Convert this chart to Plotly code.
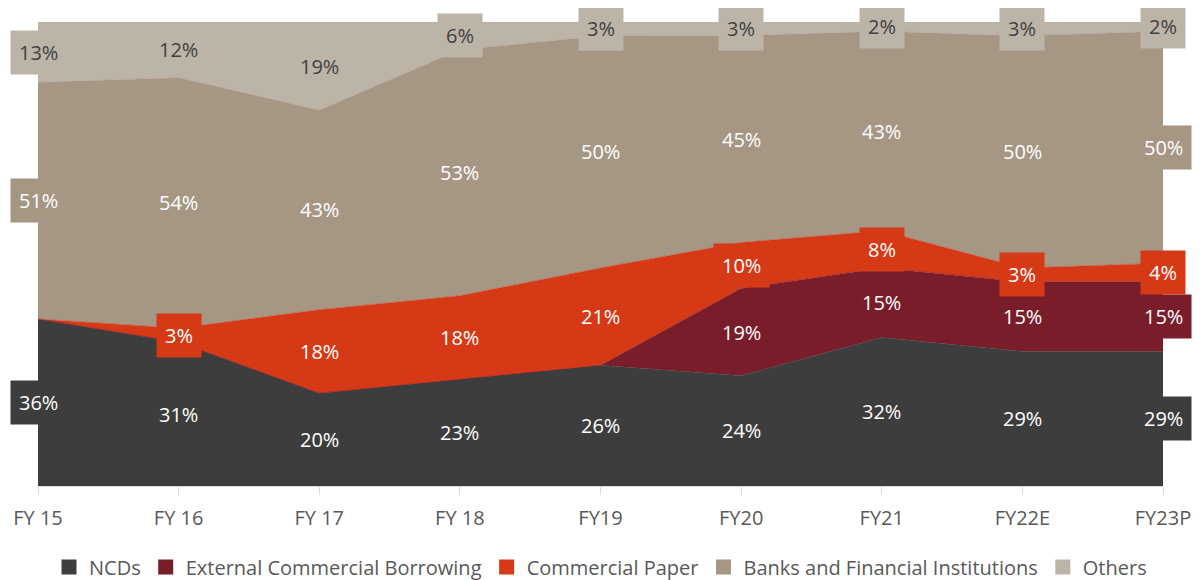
import plotly.graph_objects as go

years = ["FY 15", "FY 16", "FY 17", "FY 18", "FY19", "FY20", "FY21", "FY22E", "FY23P"]
ncds = [36, 31, 20, 23, 26, 24, 32, 29, 29]
ecb = [0, 0, 0, 0, 0, 19, 15, 15, 15]
cp = [0, 3, 18, 18, 21, 10, 8, 3, 4]
banks = [51, 54, 43, 53, 50, 45, 43, 50, 50]
others = [13, 12, 19, 6, 3, 3, 2, 3, 2]

series = [
    ("NCDs", ncds, "#3d3d3d", "white"),
    ("External Commercial Borrowing", ecb, "#7a1d2a", "white"),
    ("Commercial Paper", cp, "#d63916", "white"),
    ("Banks and Financial Institutions", banks, "#a69684", "white"),
    ("Others", others, "#bdb4a8", "#404040"),
]

FONT = "Open Sans"

fig = go.Figure()
for name, vals, color, _ in series:
    fig.add_trace(go.Scatter(
        x=years, y=vals, name=name, mode="lines",
        stackgroup="one", groupnorm="percent",
        line=dict(width=0.5, color=color), fillcolor=color,
        showlegend=False,
    ))
# square legend keys
for name, vals, color, _ in series:
    fig.add_trace(go.Scatter(
        x=[years[0]], y=[None], name=name, mode="markers",
        marker=dict(symbol="square", size=15, color=color),
    ))

# labels in the middle of each band
totals = [sum(s[1][i] for s in series) for i in range(len(years))]
base = [0.0] * len(years)
annotations = []
for name, vals, color, tcolor in series:
    for i, v in enumerate(vals):
        pct = v / totals[i] * 100
        if v > 0:
            annotations.append(dict(
                x=years[i], y=base[i] + pct / 2, text=f"{v}%", showarrow=False,
                bgcolor=color, borderpad=8,
                font=dict(family=FONT, size=20, color=tcolor),
            ))
        base[i] += pct

# page body has an 8px margin, so the figure is shifted by 8px
fig.update_layout(
    width=1185, height=572,
    margin=dict(l=30, r=30, t=14, b=94),
    plot_bgcolor="white", paper_bgcolor="white",
    annotations=annotations,
    showlegend=True,
    legend=dict(orientation="h", x=0.5, xanchor="center",
                yref="container", y=1 - 559 / 572, yanchor="middle",
                font=dict(family=FONT, size=20, color="#595959"),
                traceorder="normal", itemwidth=30),
    font=dict(family=FONT),
)
fig.update_xaxes(
    range=[0, 8], showgrid=False, showline=True, linecolor="#d9d9d9", linewidth=1,
    ticks="outside", ticklen=8, tickcolor="#d9d9d9", ticklabelstandoff=6,
    tickfont=dict(family=FONT, size=20, color="#595959"), automargin=False,
)
fig.update_yaxes(range=[0, 100], visible=False, showgrid=False)

fig.write_html("out.html")
